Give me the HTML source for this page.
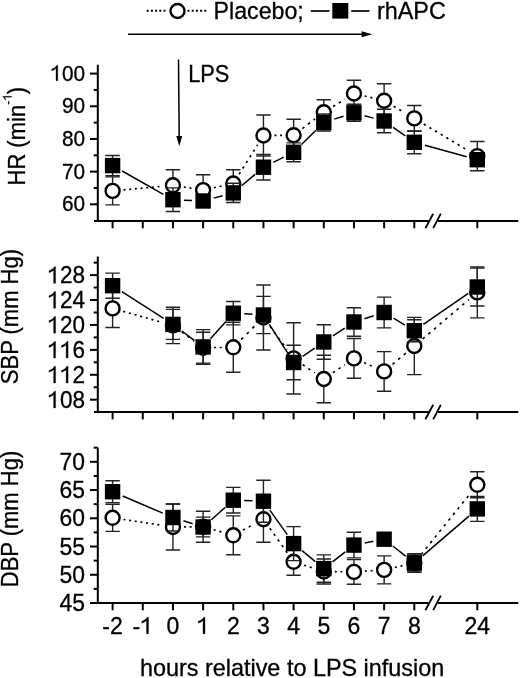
<!DOCTYPE html>
<html><head><meta charset="utf-8"><style>
html,body{margin:0;padding:0;background:#fff;}
svg{display:block;filter:grayscale(1);}
.t{font-family:"Liberation Sans", sans-serif;font-size:22.5px;fill:#000;stroke:#000;stroke-width:0.3px;}
</style></head><body>
<svg width="520" height="678" viewBox="0 0 520 678">
<defs><path id="one" d="M560 0L740 0L740 1409L630 1409C590 1330 525 1262 450 1206C365 1142 255 1095 140 1065L140 900C250 930 350 975 430 1025C480 1057 525 1090 560 1125Z" fill="#000" stroke="#000" stroke-width="28"/></defs>
<line x1="97.8" y1="64.7" x2="97.8" y2="222.0" stroke="#000" stroke-width="2"/>
<line x1="90" y1="73.6" x2="97.8" y2="73.6" stroke="#000" stroke-width="2"/>
<text transform="translate(85.00,80.70) scale(1,1.08)" text-anchor="end" class="t" style="font-size:20.8px"> 00</text>
<use href="#one" transform="translate(50.30,80.70) scale(0.01016,-0.01097)"/>
<line x1="90" y1="106.27499999999999" x2="97.8" y2="106.27499999999999" stroke="#000" stroke-width="2"/>
<text transform="translate(85.00,113.37) scale(1,1.08)" text-anchor="end" class="t" style="font-size:20.8px">90</text>
<line x1="90" y1="138.95" x2="97.8" y2="138.95" stroke="#000" stroke-width="2"/>
<text transform="translate(85.00,146.05) scale(1,1.08)" text-anchor="end" class="t" style="font-size:20.8px">80</text>
<line x1="90" y1="171.625" x2="97.8" y2="171.625" stroke="#000" stroke-width="2"/>
<text transform="translate(85.00,178.72) scale(1,1.08)" text-anchor="end" class="t" style="font-size:20.8px">70</text>
<line x1="90" y1="204.29999999999998" x2="97.8" y2="204.29999999999998" stroke="#000" stroke-width="2"/>
<text transform="translate(85.00,211.40) scale(1,1.08)" text-anchor="end" class="t" style="font-size:20.8px">60</text>
<line x1="93.7" y1="89.9375" x2="97.8" y2="89.9375" stroke="#000" stroke-width="2"/>
<line x1="93.7" y1="122.6125" x2="97.8" y2="122.6125" stroke="#000" stroke-width="2"/>
<line x1="93.7" y1="155.2875" x2="97.8" y2="155.2875" stroke="#000" stroke-width="2"/>
<line x1="93.7" y1="187.96249999999998" x2="97.8" y2="187.96249999999998" stroke="#000" stroke-width="2"/>
<line x1="94.0" y1="221.0" x2="428.8" y2="221.0" stroke="#000" stroke-width="2"/>
<line x1="437.8" y1="221.0" x2="518.3" y2="221.0" stroke="#000" stroke-width="2"/>
<line x1="425.4" y1="228.2" x2="433.2" y2="213.7" stroke="#000" stroke-width="1.8"/>
<line x1="433.2" y1="228.2" x2="440.8" y2="213.7" stroke="#000" stroke-width="1.8"/>
<line x1="112.60" y1="221.0" x2="112.60" y2="228.3" stroke="#000" stroke-width="2"/>
<line x1="142.77" y1="221.0" x2="142.77" y2="228.3" stroke="#000" stroke-width="2"/>
<line x1="172.94" y1="221.0" x2="172.94" y2="228.3" stroke="#000" stroke-width="2"/>
<line x1="203.11" y1="221.0" x2="203.11" y2="228.3" stroke="#000" stroke-width="2"/>
<line x1="233.28" y1="221.0" x2="233.28" y2="228.3" stroke="#000" stroke-width="2"/>
<line x1="263.45" y1="221.0" x2="263.45" y2="228.3" stroke="#000" stroke-width="2"/>
<line x1="293.62" y1="221.0" x2="293.62" y2="228.3" stroke="#000" stroke-width="2"/>
<line x1="323.79" y1="221.0" x2="323.79" y2="228.3" stroke="#000" stroke-width="2"/>
<line x1="353.96" y1="221.0" x2="353.96" y2="228.3" stroke="#000" stroke-width="2"/>
<line x1="384.13" y1="221.0" x2="384.13" y2="228.3" stroke="#000" stroke-width="2"/>
<line x1="414.30" y1="221.0" x2="414.30" y2="228.3" stroke="#000" stroke-width="2"/>
<line x1="477.30" y1="221.0" x2="477.30" y2="228.3" stroke="#000" stroke-width="2"/>
<line x1="97.8" y1="256.5" x2="97.8" y2="413.1" stroke="#000" stroke-width="2"/>
<line x1="90" y1="275.1" x2="97.8" y2="275.1" stroke="#000" stroke-width="2"/>
<text transform="translate(85.00,283.30) scale(1,1.076)" text-anchor="end" class="t" style="font-size:22.5px"> 28</text>
<use href="#one" transform="translate(47.46,283.30) scale(0.01099,-0.01182)"/>
<line x1="90" y1="300.02000000000004" x2="97.8" y2="300.02000000000004" stroke="#000" stroke-width="2"/>
<text transform="translate(85.00,308.22) scale(1,1.076)" text-anchor="end" class="t" style="font-size:22.5px"> 24</text>
<use href="#one" transform="translate(47.46,308.22) scale(0.01099,-0.01182)"/>
<line x1="90" y1="324.94000000000005" x2="97.8" y2="324.94000000000005" stroke="#000" stroke-width="2"/>
<text transform="translate(85.00,333.14) scale(1,1.076)" text-anchor="end" class="t" style="font-size:22.5px"> 20</text>
<use href="#one" transform="translate(47.46,333.14) scale(0.01099,-0.01182)"/>
<line x1="90" y1="349.86" x2="97.8" y2="349.86" stroke="#000" stroke-width="2"/>
<text transform="translate(85.00,358.06) scale(1,1.076)" text-anchor="end" class="t" style="font-size:22.5px">  6</text>
<use href="#one" transform="translate(47.46,358.06) scale(0.01099,-0.01182)"/>
<use href="#one" transform="translate(59.97,358.06) scale(0.01099,-0.01182)"/>
<line x1="90" y1="374.78000000000003" x2="97.8" y2="374.78000000000003" stroke="#000" stroke-width="2"/>
<text transform="translate(85.00,382.98) scale(1,1.076)" text-anchor="end" class="t" style="font-size:22.5px">  2</text>
<use href="#one" transform="translate(47.46,382.98) scale(0.01099,-0.01182)"/>
<use href="#one" transform="translate(59.97,382.98) scale(0.01099,-0.01182)"/>
<line x1="90" y1="399.70000000000005" x2="97.8" y2="399.70000000000005" stroke="#000" stroke-width="2"/>
<text transform="translate(85.00,407.90) scale(1,1.076)" text-anchor="end" class="t" style="font-size:22.5px"> 08</text>
<use href="#one" transform="translate(47.46,407.90) scale(0.01099,-0.01182)"/>
<line x1="93.7" y1="262.64000000000004" x2="97.8" y2="262.64000000000004" stroke="#000" stroke-width="2"/>
<line x1="93.7" y1="287.56" x2="97.8" y2="287.56" stroke="#000" stroke-width="2"/>
<line x1="93.7" y1="312.48" x2="97.8" y2="312.48" stroke="#000" stroke-width="2"/>
<line x1="93.7" y1="337.40000000000003" x2="97.8" y2="337.40000000000003" stroke="#000" stroke-width="2"/>
<line x1="93.7" y1="362.32000000000005" x2="97.8" y2="362.32000000000005" stroke="#000" stroke-width="2"/>
<line x1="93.7" y1="387.24" x2="97.8" y2="387.24" stroke="#000" stroke-width="2"/>
<line x1="94.0" y1="412.1" x2="428.8" y2="412.1" stroke="#000" stroke-width="2"/>
<line x1="437.8" y1="412.1" x2="518.3" y2="412.1" stroke="#000" stroke-width="2"/>
<line x1="425.4" y1="419.3" x2="433.2" y2="404.8" stroke="#000" stroke-width="1.8"/>
<line x1="433.2" y1="419.3" x2="440.8" y2="404.8" stroke="#000" stroke-width="1.8"/>
<line x1="112.60" y1="412.1" x2="112.60" y2="419.40000000000003" stroke="#000" stroke-width="2"/>
<line x1="142.77" y1="412.1" x2="142.77" y2="419.40000000000003" stroke="#000" stroke-width="2"/>
<line x1="172.94" y1="412.1" x2="172.94" y2="419.40000000000003" stroke="#000" stroke-width="2"/>
<line x1="203.11" y1="412.1" x2="203.11" y2="419.40000000000003" stroke="#000" stroke-width="2"/>
<line x1="233.28" y1="412.1" x2="233.28" y2="419.40000000000003" stroke="#000" stroke-width="2"/>
<line x1="263.45" y1="412.1" x2="263.45" y2="419.40000000000003" stroke="#000" stroke-width="2"/>
<line x1="293.62" y1="412.1" x2="293.62" y2="419.40000000000003" stroke="#000" stroke-width="2"/>
<line x1="323.79" y1="412.1" x2="323.79" y2="419.40000000000003" stroke="#000" stroke-width="2"/>
<line x1="353.96" y1="412.1" x2="353.96" y2="419.40000000000003" stroke="#000" stroke-width="2"/>
<line x1="384.13" y1="412.1" x2="384.13" y2="419.40000000000003" stroke="#000" stroke-width="2"/>
<line x1="414.30" y1="412.1" x2="414.30" y2="419.40000000000003" stroke="#000" stroke-width="2"/>
<line x1="477.30" y1="412.1" x2="477.30" y2="419.40000000000003" stroke="#000" stroke-width="2"/>
<line x1="97.8" y1="447.7" x2="97.8" y2="604.0" stroke="#000" stroke-width="2"/>
<line x1="90" y1="461.8" x2="97.8" y2="461.8" stroke="#000" stroke-width="2"/>
<text transform="translate(85.00,469.80) scale(1,1.03)" text-anchor="end" class="t" style="font-size:22.9px">70</text>
<line x1="90" y1="490.04" x2="97.8" y2="490.04" stroke="#000" stroke-width="2"/>
<text transform="translate(85.00,498.04) scale(1,1.03)" text-anchor="end" class="t" style="font-size:22.9px">65</text>
<line x1="90" y1="518.28" x2="97.8" y2="518.28" stroke="#000" stroke-width="2"/>
<text transform="translate(85.00,526.28) scale(1,1.03)" text-anchor="end" class="t" style="font-size:22.9px">60</text>
<line x1="90" y1="546.52" x2="97.8" y2="546.52" stroke="#000" stroke-width="2"/>
<text transform="translate(85.00,554.52) scale(1,1.03)" text-anchor="end" class="t" style="font-size:22.9px">55</text>
<line x1="90" y1="574.76" x2="97.8" y2="574.76" stroke="#000" stroke-width="2"/>
<text transform="translate(85.00,582.76) scale(1,1.03)" text-anchor="end" class="t" style="font-size:22.9px">50</text>
<line x1="93.7" y1="447.68" x2="97.8" y2="447.68" stroke="#000" stroke-width="2"/>
<line x1="93.7" y1="475.92" x2="97.8" y2="475.92" stroke="#000" stroke-width="2"/>
<line x1="93.7" y1="504.16" x2="97.8" y2="504.16" stroke="#000" stroke-width="2"/>
<line x1="93.7" y1="532.4" x2="97.8" y2="532.4" stroke="#000" stroke-width="2"/>
<line x1="93.7" y1="560.64" x2="97.8" y2="560.64" stroke="#000" stroke-width="2"/>
<line x1="93.7" y1="588.88" x2="97.8" y2="588.88" stroke="#000" stroke-width="2"/>
<line x1="90.0" y1="603.0" x2="428.8" y2="603.0" stroke="#000" stroke-width="2"/>
<line x1="437.8" y1="603.0" x2="518.3" y2="603.0" stroke="#000" stroke-width="2"/>
<line x1="425.4" y1="610.2" x2="433.2" y2="595.7" stroke="#000" stroke-width="1.8"/>
<line x1="433.2" y1="610.2" x2="440.8" y2="595.7" stroke="#000" stroke-width="1.8"/>
<line x1="112.60" y1="603.0" x2="112.60" y2="610.3" stroke="#000" stroke-width="2"/>
<line x1="142.77" y1="603.0" x2="142.77" y2="610.3" stroke="#000" stroke-width="2"/>
<line x1="172.94" y1="603.0" x2="172.94" y2="610.3" stroke="#000" stroke-width="2"/>
<line x1="203.11" y1="603.0" x2="203.11" y2="610.3" stroke="#000" stroke-width="2"/>
<line x1="233.28" y1="603.0" x2="233.28" y2="610.3" stroke="#000" stroke-width="2"/>
<line x1="263.45" y1="603.0" x2="263.45" y2="610.3" stroke="#000" stroke-width="2"/>
<line x1="293.62" y1="603.0" x2="293.62" y2="610.3" stroke="#000" stroke-width="2"/>
<line x1="323.79" y1="603.0" x2="323.79" y2="610.3" stroke="#000" stroke-width="2"/>
<line x1="353.96" y1="603.0" x2="353.96" y2="610.3" stroke="#000" stroke-width="2"/>
<line x1="384.13" y1="603.0" x2="384.13" y2="610.3" stroke="#000" stroke-width="2"/>
<line x1="414.30" y1="603.0" x2="414.30" y2="610.3" stroke="#000" stroke-width="2"/>
<line x1="477.30" y1="603.0" x2="477.30" y2="610.3" stroke="#000" stroke-width="2"/>
<text transform="translate(85.00,610.90) scale(1,1.03)" text-anchor="end" class="t" style="font-size:22.9px">45</text>
<line x1="123.55" y1="189.88" x2="161.99" y2="186.32" stroke="#000" stroke-width="1.65" stroke-dasharray="2.01 3.67" stroke-linecap="butt"/>
<line x1="183.80" y1="187.03" x2="192.25" y2="188.37" stroke="#000" stroke-width="1.65" stroke-dasharray="2.03 3.70" stroke-linecap="butt"/>
<line x1="213.86" y1="187.75" x2="222.53" y2="185.85" stroke="#000" stroke-width="1.65" stroke-dasharray="2.05 3.74" stroke-linecap="butt"/>
<line x1="239.13" y1="174.19" x2="257.60" y2="144.81" stroke="#000" stroke-width="1.65" stroke-dasharray="2.36 4.31" stroke-linecap="butt"/>
<line x1="274.45" y1="135.39" x2="282.62" y2="135.31" stroke="#000" stroke-width="1.65" stroke-dasharray="2.00 3.65" stroke-linecap="butt"/>
<line x1="302.38" y1="128.55" x2="315.03" y2="118.95" stroke="#000" stroke-width="1.65" stroke-dasharray="2.51 4.58" stroke-linecap="butt"/>
<line x1="333.13" y1="106.48" x2="344.62" y2="99.32" stroke="#000" stroke-width="1.65" stroke-dasharray="2.36 4.30" stroke-linecap="butt"/>
<line x1="364.66" y1="96.05" x2="373.43" y2="98.15" stroke="#000" stroke-width="1.65" stroke-dasharray="2.06 3.75" stroke-linecap="butt"/>
<line x1="393.62" y1="106.27" x2="404.81" y2="112.83" stroke="#000" stroke-width="1.65" stroke-dasharray="2.32 4.23" stroke-linecap="butt"/>
<line x1="423.74" y1="124.05" x2="467.86" y2="150.45" stroke="#000" stroke-width="1.65" stroke-dasharray="2.33 4.25" stroke-linecap="butt"/>
<line x1="122.18" y1="171.01" x2="163.36" y2="194.29" stroke="#000" stroke-width="1.5"/>
<line x1="183.93" y1="200.17" x2="192.12" y2="200.53" stroke="#000" stroke-width="1.5"/>
<line x1="213.73" y1="198.15" x2="222.66" y2="195.75" stroke="#000" stroke-width="1.5"/>
<line x1="241.65" y1="185.77" x2="255.08" y2="174.33" stroke="#000" stroke-width="1.5"/>
<line x1="273.31" y1="162.33" x2="283.76" y2="157.17" stroke="#000" stroke-width="1.5"/>
<line x1="301.45" y1="144.57" x2="315.96" y2="130.23" stroke="#000" stroke-width="1.5"/>
<line x1="334.26" y1="119.13" x2="343.49" y2="116.17" stroke="#000" stroke-width="1.5"/>
<line x1="364.57" y1="115.69" x2="373.52" y2="118.11" stroke="#000" stroke-width="1.5"/>
<line x1="393.12" y1="127.34" x2="405.31" y2="135.96" stroke="#000" stroke-width="1.5"/>
<line x1="424.90" y1="145.23" x2="466.70" y2="156.77" stroke="#000" stroke-width="1.5"/>
<path d="M112.60 176.90V204.90M105.40 176.90H119.80M105.40 204.90H119.80" stroke="#222" stroke-width="1.4" fill="none"/>
<path d="M172.94 169.80V200.80M165.74 169.80H180.14M165.74 200.80H180.14" stroke="#222" stroke-width="1.4" fill="none"/>
<path d="M203.11 174.80V205.40M195.91 174.80H210.31M195.91 205.40H210.31" stroke="#222" stroke-width="1.4" fill="none"/>
<path d="M233.28 169.80V197.20M226.08 169.80H240.48M226.08 197.20H240.48" stroke="#222" stroke-width="1.4" fill="none"/>
<path d="M263.45 115.00V156.00M256.25 115.00H270.65M256.25 156.00H270.65" stroke="#222" stroke-width="1.4" fill="none"/>
<path d="M293.62 119.20V151.20M286.42 119.20H300.82M286.42 151.20H300.82" stroke="#222" stroke-width="1.4" fill="none"/>
<path d="M323.79 99.80V124.80M316.59 99.80H330.99M316.59 124.80H330.99" stroke="#222" stroke-width="1.4" fill="none"/>
<path d="M353.96 80.20V106.80M346.76 80.20H361.16M346.76 106.80H361.16" stroke="#222" stroke-width="1.4" fill="none"/>
<path d="M384.13 83.80V117.60M376.93 83.80H391.33M376.93 117.60H391.33" stroke="#222" stroke-width="1.4" fill="none"/>
<path d="M414.30 105.50V131.30M407.10 105.50H421.50M407.10 131.30H421.50" stroke="#222" stroke-width="1.4" fill="none"/>
<path d="M477.30 141.50V170.70M470.10 141.50H484.50M470.10 170.70H484.50" stroke="#222" stroke-width="1.4" fill="none"/>
<circle cx="112.60" cy="190.90" r="7.0" fill="#fff" stroke="#000" stroke-width="2.4"/>
<circle cx="172.94" cy="185.30" r="7.0" fill="#fff" stroke="#000" stroke-width="2.4"/>
<circle cx="203.11" cy="190.10" r="7.0" fill="#fff" stroke="#000" stroke-width="2.4"/>
<circle cx="233.28" cy="183.50" r="7.0" fill="#fff" stroke="#000" stroke-width="2.4"/>
<circle cx="263.45" cy="135.50" r="7.0" fill="#fff" stroke="#000" stroke-width="2.4"/>
<circle cx="293.62" cy="135.20" r="7.0" fill="#fff" stroke="#000" stroke-width="2.4"/>
<circle cx="323.79" cy="112.30" r="7.0" fill="#fff" stroke="#000" stroke-width="2.4"/>
<circle cx="353.96" cy="93.50" r="7.0" fill="#fff" stroke="#000" stroke-width="2.4"/>
<circle cx="384.13" cy="100.70" r="7.0" fill="#fff" stroke="#000" stroke-width="2.4"/>
<circle cx="414.30" cy="118.40" r="7.0" fill="#fff" stroke="#000" stroke-width="2.4"/>
<circle cx="477.30" cy="156.10" r="7.0" fill="#fff" stroke="#000" stroke-width="2.4"/>
<path d="M112.60 155.50V175.70M105.40 155.50H119.80M105.40 175.70H119.80" stroke="#222" stroke-width="1.4" fill="none"/>
<path d="M172.94 187.90V211.50M165.74 187.90H180.14M165.74 211.50H180.14" stroke="#222" stroke-width="1.4" fill="none"/>
<path d="M203.11 196.00V206.00M195.91 196.00H210.31M195.91 206.00H210.31" stroke="#222" stroke-width="1.4" fill="none"/>
<path d="M233.28 183.30V202.50M226.08 183.30H240.48M226.08 202.50H240.48" stroke="#222" stroke-width="1.4" fill="none"/>
<path d="M263.45 154.40V180.00M256.25 154.40H270.65M256.25 180.00H270.65" stroke="#222" stroke-width="1.4" fill="none"/>
<path d="M293.62 142.90V161.70M286.42 142.90H300.82M286.42 161.70H300.82" stroke="#222" stroke-width="1.4" fill="none"/>
<path d="M323.79 114.00V131.00M316.59 114.00H330.99M316.59 131.00H330.99" stroke="#222" stroke-width="1.4" fill="none"/>
<path d="M353.96 104.30V121.30M346.76 104.30H361.16M346.76 121.30H361.16" stroke="#222" stroke-width="1.4" fill="none"/>
<path d="M384.13 109.30V132.70M376.93 109.30H391.33M376.93 132.70H391.33" stroke="#222" stroke-width="1.4" fill="none"/>
<path d="M414.30 130.90V153.70M407.10 130.90H421.50M407.10 153.70H421.50" stroke="#222" stroke-width="1.4" fill="none"/>
<path d="M477.30 153.20V166.20M470.10 153.20H484.50M470.10 166.20H484.50" stroke="#222" stroke-width="1.4" fill="none"/>
<rect x="104.90" y="157.90" width="15.40" height="15.40" fill="#000"/>
<rect x="165.24" y="192.00" width="15.40" height="15.40" fill="#000"/>
<rect x="195.41" y="193.30" width="15.40" height="15.40" fill="#000"/>
<rect x="225.58" y="185.20" width="15.40" height="15.40" fill="#000"/>
<rect x="255.75" y="159.50" width="15.40" height="15.40" fill="#000"/>
<rect x="285.92" y="144.60" width="15.40" height="15.40" fill="#000"/>
<rect x="316.09" y="114.80" width="15.40" height="15.40" fill="#000"/>
<rect x="346.26" y="105.10" width="15.40" height="15.40" fill="#000"/>
<rect x="376.43" y="113.30" width="15.40" height="15.40" fill="#000"/>
<rect x="406.60" y="134.60" width="15.40" height="15.40" fill="#000"/>
<rect x="469.60" y="152.00" width="15.40" height="15.40" fill="#000"/>
<line x1="123.19" y1="311.38" x2="162.35" y2="322.42" stroke="#000" stroke-width="1.65" stroke-dasharray="2.08 3.79" stroke-linecap="butt"/>
<line x1="181.79" y1="331.94" x2="194.26" y2="341.16" stroke="#000" stroke-width="1.65" stroke-dasharray="2.49 4.54" stroke-linecap="butt"/>
<line x1="214.11" y1="347.55" x2="222.28" y2="347.45" stroke="#000" stroke-width="1.65" stroke-dasharray="2.00 3.65" stroke-linecap="butt"/>
<line x1="241.11" y1="339.57" x2="255.62" y2="325.23" stroke="#000" stroke-width="1.65" stroke-dasharray="2.81 5.13" stroke-linecap="butt"/>
<line x1="269.98" y1="326.35" x2="287.09" y2="349.55" stroke="#000" stroke-width="1.65" stroke-dasharray="2.49 4.54" stroke-linecap="butt"/>
<line x1="302.70" y1="364.60" x2="314.71" y2="372.80" stroke="#000" stroke-width="1.65" stroke-dasharray="2.42 4.42" stroke-linecap="butt"/>
<line x1="332.87" y1="372.80" x2="344.88" y2="364.60" stroke="#000" stroke-width="1.65" stroke-dasharray="2.42 4.42" stroke-linecap="butt"/>
<line x1="364.06" y1="362.75" x2="374.03" y2="367.05" stroke="#000" stroke-width="1.65" stroke-dasharray="2.18 3.97" stroke-linecap="butt"/>
<line x1="392.54" y1="364.32" x2="405.89" y2="353.08" stroke="#000" stroke-width="1.65" stroke-dasharray="2.61 4.77" stroke-linecap="butt"/>
<line x1="422.68" y1="338.87" x2="468.92" y2="299.53" stroke="#000" stroke-width="1.65" stroke-dasharray="2.63 4.79" stroke-linecap="butt"/>
<line x1="121.86" y1="291.64" x2="163.68" y2="318.46" stroke="#000" stroke-width="1.5"/>
<line x1="181.76" y1="330.98" x2="194.29" y2="340.32" stroke="#000" stroke-width="1.5"/>
<line x1="210.45" y1="338.70" x2="225.94" y2="321.40" stroke="#000" stroke-width="1.5"/>
<line x1="244.26" y1="313.86" x2="252.47" y2="314.34" stroke="#000" stroke-width="1.5"/>
<line x1="269.35" y1="324.29" x2="287.72" y2="353.21" stroke="#000" stroke-width="1.5"/>
<line x1="302.72" y1="356.32" x2="314.69" y2="348.18" stroke="#000" stroke-width="1.5"/>
<line x1="332.96" y1="335.92" x2="344.79" y2="328.08" stroke="#000" stroke-width="1.5"/>
<line x1="364.45" y1="318.70" x2="373.64" y2="315.80" stroke="#000" stroke-width="1.5"/>
<line x1="393.55" y1="318.18" x2="404.88" y2="325.02" stroke="#000" stroke-width="1.5"/>
<line x1="423.34" y1="324.43" x2="468.26" y2="293.27" stroke="#000" stroke-width="1.5"/>
<path d="M112.60 289.30V327.50M105.40 289.30H119.80M105.40 327.50H119.80" stroke="#222" stroke-width="1.4" fill="none"/>
<path d="M172.94 307.20V343.60M165.74 307.20H180.14M165.74 343.60H180.14" stroke="#222" stroke-width="1.4" fill="none"/>
<path d="M203.11 332.30V363.10M195.91 332.30H210.31M195.91 363.10H210.31" stroke="#222" stroke-width="1.4" fill="none"/>
<path d="M233.28 322.30V372.30M226.08 322.30H240.48M226.08 372.30H240.48" stroke="#222" stroke-width="1.4" fill="none"/>
<path d="M263.45 285.00V350.00M256.25 285.00H270.65M256.25 350.00H270.65" stroke="#222" stroke-width="1.4" fill="none"/>
<path d="M293.62 322.80V394.00M286.42 322.80H300.82M286.42 394.00H300.82" stroke="#222" stroke-width="1.4" fill="none"/>
<path d="M323.79 355.30V402.70M316.59 355.30H330.99M316.59 402.70H330.99" stroke="#222" stroke-width="1.4" fill="none"/>
<path d="M353.96 338.50V378.30M346.76 338.50H361.16M346.76 378.30H361.16" stroke="#222" stroke-width="1.4" fill="none"/>
<path d="M384.13 351.60V391.20M376.93 351.60H391.33M376.93 391.20H391.33" stroke="#222" stroke-width="1.4" fill="none"/>
<path d="M414.30 317.40V374.60M407.10 317.40H421.50M407.10 374.60H421.50" stroke="#222" stroke-width="1.4" fill="none"/>
<path d="M477.30 266.90V317.90M470.10 266.90H484.50M470.10 317.90H484.50" stroke="#222" stroke-width="1.4" fill="none"/>
<circle cx="112.60" cy="308.40" r="7.0" fill="#fff" stroke="#000" stroke-width="2.4"/>
<circle cx="172.94" cy="325.40" r="7.0" fill="#fff" stroke="#000" stroke-width="2.4"/>
<circle cx="203.11" cy="347.70" r="7.0" fill="#fff" stroke="#000" stroke-width="2.4"/>
<circle cx="233.28" cy="347.30" r="7.0" fill="#fff" stroke="#000" stroke-width="2.4"/>
<circle cx="263.45" cy="317.50" r="7.0" fill="#fff" stroke="#000" stroke-width="2.4"/>
<circle cx="293.62" cy="358.40" r="7.0" fill="#fff" stroke="#000" stroke-width="2.4"/>
<circle cx="323.79" cy="379.00" r="7.0" fill="#fff" stroke="#000" stroke-width="2.4"/>
<circle cx="353.96" cy="358.40" r="7.0" fill="#fff" stroke="#000" stroke-width="2.4"/>
<circle cx="384.13" cy="371.40" r="7.0" fill="#fff" stroke="#000" stroke-width="2.4"/>
<circle cx="414.30" cy="346.00" r="7.0" fill="#fff" stroke="#000" stroke-width="2.4"/>
<circle cx="477.30" cy="292.40" r="7.0" fill="#fff" stroke="#000" stroke-width="2.4"/>
<path d="M112.60 273.10V298.30M105.40 273.10H119.80M105.40 298.30H119.80" stroke="#222" stroke-width="1.4" fill="none"/>
<path d="M172.94 309.40V339.40M165.74 309.40H180.14M165.74 339.40H180.14" stroke="#222" stroke-width="1.4" fill="none"/>
<path d="M203.11 329.60V364.20M195.91 329.60H210.31M195.91 364.20H210.31" stroke="#222" stroke-width="1.4" fill="none"/>
<path d="M233.28 301.50V324.90M226.08 301.50H240.48M226.08 324.90H240.48" stroke="#222" stroke-width="1.4" fill="none"/>
<path d="M263.45 296.40V333.60M256.25 296.40H270.65M256.25 333.60H270.65" stroke="#222" stroke-width="1.4" fill="none"/>
<path d="M293.62 345.20V379.80M286.42 345.20H300.82M286.42 379.80H300.82" stroke="#222" stroke-width="1.4" fill="none"/>
<path d="M323.79 324.70V359.30M316.59 324.70H330.99M316.59 359.30H330.99" stroke="#222" stroke-width="1.4" fill="none"/>
<path d="M353.96 307.70V336.30M346.76 307.70H361.16M346.76 336.30H361.16" stroke="#222" stroke-width="1.4" fill="none"/>
<path d="M384.13 297.10V327.90M376.93 297.10H391.33M376.93 327.90H391.33" stroke="#222" stroke-width="1.4" fill="none"/>
<path d="M414.30 319.70V341.70M407.10 319.70H421.50M407.10 341.70H421.50" stroke="#222" stroke-width="1.4" fill="none"/>
<path d="M477.30 268.00V306.00M470.10 268.00H484.50M470.10 306.00H484.50" stroke="#222" stroke-width="1.4" fill="none"/>
<rect x="104.90" y="278.00" width="15.40" height="15.40" fill="#000"/>
<rect x="165.24" y="316.70" width="15.40" height="15.40" fill="#000"/>
<rect x="195.41" y="339.20" width="15.40" height="15.40" fill="#000"/>
<rect x="225.58" y="305.50" width="15.40" height="15.40" fill="#000"/>
<rect x="255.75" y="307.30" width="15.40" height="15.40" fill="#000"/>
<rect x="285.92" y="354.80" width="15.40" height="15.40" fill="#000"/>
<rect x="316.09" y="334.30" width="15.40" height="15.40" fill="#000"/>
<rect x="346.26" y="314.30" width="15.40" height="15.40" fill="#000"/>
<rect x="376.43" y="304.80" width="15.40" height="15.40" fill="#000"/>
<rect x="406.60" y="323.00" width="15.40" height="15.40" fill="#000"/>
<rect x="469.60" y="279.30" width="15.40" height="15.40" fill="#000"/>
<line x1="123.47" y1="519.46" x2="162.07" y2="525.34" stroke="#000" stroke-width="1.65" stroke-dasharray="2.02 3.69" stroke-linecap="butt"/>
<line x1="183.94" y1="526.91" x2="192.11" y2="526.84" stroke="#000" stroke-width="1.65" stroke-dasharray="2.00 3.65" stroke-linecap="butt"/>
<line x1="213.69" y1="529.75" x2="222.70" y2="532.30" stroke="#000" stroke-width="1.65" stroke-dasharray="2.08 3.79" stroke-linecap="butt"/>
<line x1="242.98" y1="530.12" x2="253.75" y2="524.38" stroke="#000" stroke-width="1.65" stroke-dasharray="2.27 4.14" stroke-linecap="butt"/>
<line x1="269.81" y1="528.18" x2="287.26" y2="552.82" stroke="#000" stroke-width="1.65" stroke-dasharray="2.45 4.47" stroke-linecap="butt"/>
<line x1="304.09" y1="565.17" x2="313.32" y2="568.13" stroke="#000" stroke-width="1.65" stroke-dasharray="2.10 3.83" stroke-linecap="butt"/>
<line x1="334.79" y1="571.65" x2="342.96" y2="571.75" stroke="#000" stroke-width="1.65" stroke-dasharray="2.00 3.65" stroke-linecap="butt"/>
<line x1="364.94" y1="571.17" x2="373.15" y2="570.63" stroke="#000" stroke-width="1.65" stroke-dasharray="2.00 3.66" stroke-linecap="butt"/>
<line x1="394.85" y1="567.45" x2="403.58" y2="565.45" stroke="#000" stroke-width="1.65" stroke-dasharray="2.05 3.74" stroke-linecap="butt"/>
<line x1="421.20" y1="554.43" x2="470.40" y2="493.37" stroke="#000" stroke-width="1.65" stroke-dasharray="2.57 4.69" stroke-linecap="butt"/>
<line x1="122.71" y1="496.02" x2="162.83" y2="513.18" stroke="#000" stroke-width="1.5"/>
<line x1="183.43" y1="520.80" x2="192.62" y2="523.70" stroke="#000" stroke-width="1.5"/>
<line x1="211.33" y1="519.69" x2="225.06" y2="507.51" stroke="#000" stroke-width="1.5"/>
<line x1="244.27" y1="500.56" x2="252.46" y2="500.84" stroke="#000" stroke-width="1.5"/>
<line x1="269.83" y1="510.16" x2="287.24" y2="534.64" stroke="#000" stroke-width="1.5"/>
<line x1="302.09" y1="550.62" x2="315.32" y2="561.58" stroke="#000" stroke-width="1.5"/>
<line x1="332.47" y1="561.84" x2="345.28" y2="551.86" stroke="#000" stroke-width="1.5"/>
<line x1="364.76" y1="542.99" x2="373.33" y2="541.31" stroke="#000" stroke-width="1.5"/>
<line x1="392.77" y1="546.01" x2="405.66" y2="556.19" stroke="#000" stroke-width="1.5"/>
<line x1="422.65" y1="555.83" x2="468.95" y2="516.07" stroke="#000" stroke-width="1.5"/>
<path d="M112.60 504.20V531.40M105.40 504.20H119.80M105.40 531.40H119.80" stroke="#222" stroke-width="1.4" fill="none"/>
<path d="M172.94 504.00V550.00M165.74 504.00H180.14M165.74 550.00H180.14" stroke="#222" stroke-width="1.4" fill="none"/>
<path d="M203.11 511.25V542.25M195.91 511.25H210.31M195.91 542.25H210.31" stroke="#222" stroke-width="1.4" fill="none"/>
<path d="M233.28 515.90V554.70M226.08 515.90H240.48M226.08 554.70H240.48" stroke="#222" stroke-width="1.4" fill="none"/>
<path d="M263.45 496.10V542.30M256.25 496.10H270.65M256.25 542.30H270.65" stroke="#222" stroke-width="1.4" fill="none"/>
<path d="M293.62 548.30V575.30M286.42 548.30H300.82M286.42 575.30H300.82" stroke="#222" stroke-width="1.4" fill="none"/>
<path d="M323.79 559.00V584.00M316.59 559.00H330.99M316.59 584.00H330.99" stroke="#222" stroke-width="1.4" fill="none"/>
<path d="M353.96 559.60V584.20M346.76 559.60H361.16M346.76 584.20H361.16" stroke="#222" stroke-width="1.4" fill="none"/>
<path d="M384.13 555.90V583.90M376.93 555.90H391.33M376.93 583.90H391.33" stroke="#222" stroke-width="1.4" fill="none"/>
<path d="M414.30 555.00V571.00M407.10 555.00H421.50M407.10 571.00H421.50" stroke="#222" stroke-width="1.4" fill="none"/>
<path d="M477.30 471.80V497.80M470.10 471.80H484.50M470.10 497.80H484.50" stroke="#222" stroke-width="1.4" fill="none"/>
<circle cx="112.60" cy="517.80" r="7.0" fill="#fff" stroke="#000" stroke-width="2.4"/>
<circle cx="172.94" cy="527.00" r="7.0" fill="#fff" stroke="#000" stroke-width="2.4"/>
<circle cx="203.11" cy="526.75" r="7.0" fill="#fff" stroke="#000" stroke-width="2.4"/>
<circle cx="233.28" cy="535.30" r="7.0" fill="#fff" stroke="#000" stroke-width="2.4"/>
<circle cx="263.45" cy="519.20" r="7.0" fill="#fff" stroke="#000" stroke-width="2.4"/>
<circle cx="293.62" cy="561.80" r="7.0" fill="#fff" stroke="#000" stroke-width="2.4"/>
<circle cx="323.79" cy="571.50" r="7.0" fill="#fff" stroke="#000" stroke-width="2.4"/>
<circle cx="353.96" cy="571.90" r="7.0" fill="#fff" stroke="#000" stroke-width="2.4"/>
<circle cx="384.13" cy="569.90" r="7.0" fill="#fff" stroke="#000" stroke-width="2.4"/>
<circle cx="414.30" cy="563.00" r="7.0" fill="#fff" stroke="#000" stroke-width="2.4"/>
<circle cx="477.30" cy="484.80" r="7.0" fill="#fff" stroke="#000" stroke-width="2.4"/>
<path d="M112.60 480.80V502.60M105.40 480.80H119.80M105.40 502.60H119.80" stroke="#222" stroke-width="1.4" fill="none"/>
<path d="M172.94 504.00V531.00M165.74 504.00H180.14M165.74 531.00H180.14" stroke="#222" stroke-width="1.4" fill="none"/>
<path d="M203.11 517.10V536.90M195.91 517.10H210.31M195.91 536.90H210.31" stroke="#222" stroke-width="1.4" fill="none"/>
<path d="M233.28 487.40V513.00M226.08 487.40H240.48M226.08 513.00H240.48" stroke="#222" stroke-width="1.4" fill="none"/>
<path d="M263.45 480.20V522.20M256.25 480.20H270.65M256.25 522.20H270.65" stroke="#222" stroke-width="1.4" fill="none"/>
<path d="M293.62 526.60V560.60M286.42 526.60H300.82M286.42 560.60H300.82" stroke="#222" stroke-width="1.4" fill="none"/>
<path d="M323.79 554.90V582.30M316.59 554.90H330.99M316.59 582.30H330.99" stroke="#222" stroke-width="1.4" fill="none"/>
<path d="M353.96 532.30V557.90M346.76 532.30H361.16M346.76 557.90H361.16" stroke="#222" stroke-width="1.4" fill="none"/>
<path d="M384.13 534.20V544.20M376.93 534.20H391.33M376.93 544.20H391.33" stroke="#222" stroke-width="1.4" fill="none"/>
<path d="M414.30 553.70V572.30M407.10 553.70H421.50M407.10 572.30H421.50" stroke="#222" stroke-width="1.4" fill="none"/>
<path d="M477.30 496.40V521.40M470.10 496.40H484.50M470.10 521.40H484.50" stroke="#222" stroke-width="1.4" fill="none"/>
<rect x="104.90" y="484.00" width="15.40" height="15.40" fill="#000"/>
<rect x="165.24" y="509.80" width="15.40" height="15.40" fill="#000"/>
<rect x="195.41" y="519.30" width="15.40" height="15.40" fill="#000"/>
<rect x="225.58" y="492.50" width="15.40" height="15.40" fill="#000"/>
<rect x="255.75" y="493.50" width="15.40" height="15.40" fill="#000"/>
<rect x="285.92" y="535.90" width="15.40" height="15.40" fill="#000"/>
<rect x="316.09" y="560.90" width="15.40" height="15.40" fill="#000"/>
<rect x="346.26" y="537.40" width="15.40" height="15.40" fill="#000"/>
<rect x="376.43" y="531.50" width="15.40" height="15.40" fill="#000"/>
<rect x="406.60" y="555.30" width="15.40" height="15.40" fill="#000"/>
<rect x="469.60" y="501.20" width="15.40" height="15.40" fill="#000"/>
<text transform="translate(112.60,633.80) scale(1,1.05)" text-anchor="middle" class="t" style="font-size:23.0px">-2</text>
<text transform="translate(142.77,633.80) scale(1,1.05)" text-anchor="middle" class="t" style="font-size:23.0px">- </text>
<use href="#one" transform="translate(140.20,633.80) scale(0.01123,-0.01179)"/>
<text transform="translate(172.94,633.80) scale(1,1.05)" text-anchor="middle" class="t" style="font-size:23.0px">0</text>
<text transform="translate(203.11,633.80) scale(1,1.05)" text-anchor="middle" class="t" style="font-size:23.0px"> </text>
<use href="#one" transform="translate(196.71,633.80) scale(0.01123,-0.01179)"/>
<text transform="translate(233.28,633.80) scale(1,1.05)" text-anchor="middle" class="t" style="font-size:23.0px">2</text>
<text transform="translate(263.45,633.80) scale(1,1.05)" text-anchor="middle" class="t" style="font-size:23.0px">3</text>
<text transform="translate(293.62,633.80) scale(1,1.05)" text-anchor="middle" class="t" style="font-size:23.0px">4</text>
<text transform="translate(323.79,633.80) scale(1,1.05)" text-anchor="middle" class="t" style="font-size:23.0px">5</text>
<text transform="translate(353.96,633.80) scale(1,1.05)" text-anchor="middle" class="t" style="font-size:23.0px">6</text>
<text transform="translate(384.13,633.80) scale(1,1.05)" text-anchor="middle" class="t" style="font-size:23.0px">7</text>
<text transform="translate(414.30,633.80) scale(1,1.05)" text-anchor="middle" class="t" style="font-size:23.0px">8</text>
<text transform="translate(477.30,633.80) scale(1,1.05)" text-anchor="middle" class="t" style="font-size:23.0px">24</text>
<text x="292.1" y="675.8" text-anchor="middle" class="t" style="font-size:23.4px">hours relative to LPS infusion</text>
<g transform="translate(25.1,185.5) rotate(-90) scale(1,1.05)"><text x="0" y="0" class="t" style="font-size:22px">HR (min</text><text x="80.66" y="-12.7" class="t" style="font-size:12.5px;stroke-width:0.2px">-</text><use href="#one" transform="translate(84.82,-12.7) scale(0.00610,-0.00610)"/><text x="91.3" y="0" class="t" style="font-size:22px">)</text></g>
<text transform="translate(18.4,384.2) rotate(-90) scale(1,1.05)" class="t" style="font-size:22px">SBP (mm Hg)</text>
<text transform="translate(18.4,587.2) rotate(-90) scale(1,1.05)" class="t" style="font-size:22px">DBP (mm Hg)</text>
<line x1="146.7" y1="10.8" x2="167.5" y2="10.8" stroke="#000" stroke-width="2" stroke-dasharray="2 2.2"/>
<line x1="187.5" y1="10.8" x2="206.5" y2="10.8" stroke="#000" stroke-width="2" stroke-dasharray="2 2.2"/>
<circle cx="177.5" cy="11" r="7.0" fill="#fff" stroke="#000" stroke-width="2.4"/>
<text transform="translate(213.6,18.6) scale(1,1.05)" class="t" style="font-size:23.2px">Placebo;</text>
<line x1="310.8" y1="11" x2="329.5" y2="11" stroke="#000" stroke-width="1.7"/>
<rect x="332.3" y="3" width="16" height="15.6" fill="#000"/>
<line x1="351.3" y1="11" x2="369.5" y2="11" stroke="#000" stroke-width="1.7"/>
<text transform="translate(376.9,18.6) scale(1,1.05)" class="t" style="font-size:23.4px">rhAPC</text>
<line x1="128.1" y1="34.2" x2="363" y2="34.2" stroke="#000" stroke-width="1.6"/>
<path d="M361.6 31.2 L372.4 34.2 L361.6 37.2 Z" fill="#000"/>
<line x1="178.5" y1="59.5" x2="179.2" y2="138" stroke="#000" stroke-width="1.5"/>
<path d="M176.3 136 L182.2 136 L179.3 146.2 Z" fill="#000"/>
<text transform="translate(188.2,81.6) scale(1,1.09)" class="t" style="font-size:21.8px">LPS</text>
</svg>
</body></html>
